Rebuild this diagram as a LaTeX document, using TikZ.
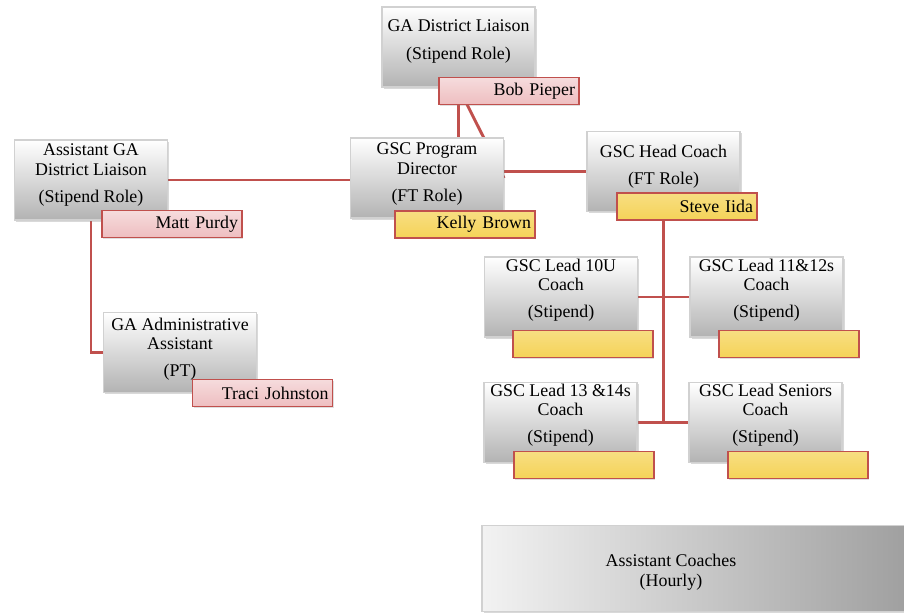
\documentclass[tikz,border=0pt]{standalone}
\usepackage{fontspec}
\setmainfont{Liberation Serif}
\usetikzlibrary{shadows,backgrounds}

\definecolor{linkred}{RGB}{192,80,77}
\definecolor{namepink}{RGB}{238,190,192}
\definecolor{nameyellow}{RGB}{245,211,88}

\begin{document}
\begin{tikzpicture}[x=0.75pt,y=-0.75pt,
  rolebox/.style={draw=black!18, line width=0.8pt, top color=white, bottom color=black!30,
    minimum width=114.75pt, minimum height=60pt, inner sep=0pt,
    drop shadow={shadow xshift=1.2pt, shadow yshift=-1.2pt, opacity=0.3}},
  roletext/.style={align=center, inner sep=0pt, font=\fontsize{13.4}{14.3}\selectfont},
  namebox/.style={draw=linkred, line width=1.1pt, minimum width=105pt, minimum height=20pt,
    text width=99pt, align=right, inner xsep=3pt, inner ysep=0pt,
    font=\fontsize{13.4}{14.3}\selectfont,
    drop shadow={shadow xshift=1pt, shadow yshift=-1pt, opacity=0.25}},
  pinkname/.style={namebox, top color=namepink!55!white, bottom color=namepink},
  yellowname/.style={namebox, top color=nameyellow!75!white, bottom color=nameyellow},
  link/.style={draw=linkred, line width=2.2pt}]

  \useasboundingbox (0,0) rectangle (904,615);

  % role boxes
  \node[rolebox] (liaison) at (458.5,47) {};
  \node[rolebox] (asst) at (91,180) {};
  \node[rolebox] (director) at (427,178) {};
  \node[rolebox] (head) at (663.5,171.5) {};
  \node[rolebox] (admin) at (180,352.5) {};
  \node[rolebox] (lead10) at (561,297) {};
  \node[rolebox] (lead11) at (766.5,297) {};
  \node[rolebox] (lead13) at (560.5,422.5) {};
  \node[rolebox] (leadsr) at (765.5,422.5) {};
  \node[rolebox, minimum width=324.75pt, minimum height=65pt,
    left color=black!5, right color=black!38] (asstcoach) at (698.5,568.5) {};

  % role titles
  \node[roletext] (liaisontext) at (458.5,41.5) {GA District Liaison\\[6pt](Stipend Role)};
  \node[roletext] (assttext) at (91,175) {Assistant GA\\District Liaison\\[6pt](Stipend Role)};
  \node[roletext] (directortext) at (427,174) {GSC Program\\Director\\[6pt](FT Role)};
  \node[roletext] (headtext) at (663.5,166.5) {GSC Head Coach\\[6pt](FT Role)};
  \node[roletext] (admintext) at (180,349) {GA Administrative\\Assistant\\[6pt](PT)};
  \node[roletext] (lead10text) at (561,290.5) {GSC Lead 10U\\Coach\\[6pt](Stipend)};
  \node[roletext] (lead11text) at (766.5,290.5) {GSC Lead 11\&12s\\Coach\\[6pt](Stipend)};
  \node[roletext] (lead13text) at (560.5,415.5) {GSC Lead 13 \&14s\\Coach\\[6pt](Stipend)};
  \node[roletext] (leadsrtext) at (765.5,415.5) {GSC Lead Seniors\\Coach\\[6pt](Stipend)};
  \node[roletext, font=\fontsize{13.4}{15}\selectfont] (asstcoachtext) at (671,572) {Assistant Coaches\\(Hourly)};

  % names
  \node[pinkname] (bob) at (509,91) {Bob Pieper};
  \node[pinkname] (matt) at (172,224) {Matt Purdy};
  \node[yellowname] (kelly) at (465,224.5) {Kelly Brown};
  \node[yellowname] (steve) at (687,206.5) {Steve Iida};
  \node[pinkname] (traci) at (262.5,393) {Traci Johnston};
  \node[yellowname] (name10) at (583,344) {};
  \node[yellowname] (name11) at (789,344) {};
  \node[yellowname] (name13) at (584,465) {};
  \node[yellowname] (namesr) at (798,465) {};

  % connectors
  \begin{scope}[on background layer]
    \draw[link] (liaison.south) -- (liaison.south |- director.north);
    \draw[link] (liaison.south) -- (director.east);
    \draw[link] (asst.east) -- (asst.east -| director.west);
    \draw[link] (director.east |- head.west) -- (head.west);
    \draw[link] (asst.south) |- (admin.west);
    \draw[link] (head.south) -- (head.south |- lead13.east);
    \draw[link] (lead10.east) -- (lead11.west);
    \draw[link] (lead13.east) -- (lead13.east -| leadsr.west);
  \end{scope}
\end{tikzpicture}
\end{document}
